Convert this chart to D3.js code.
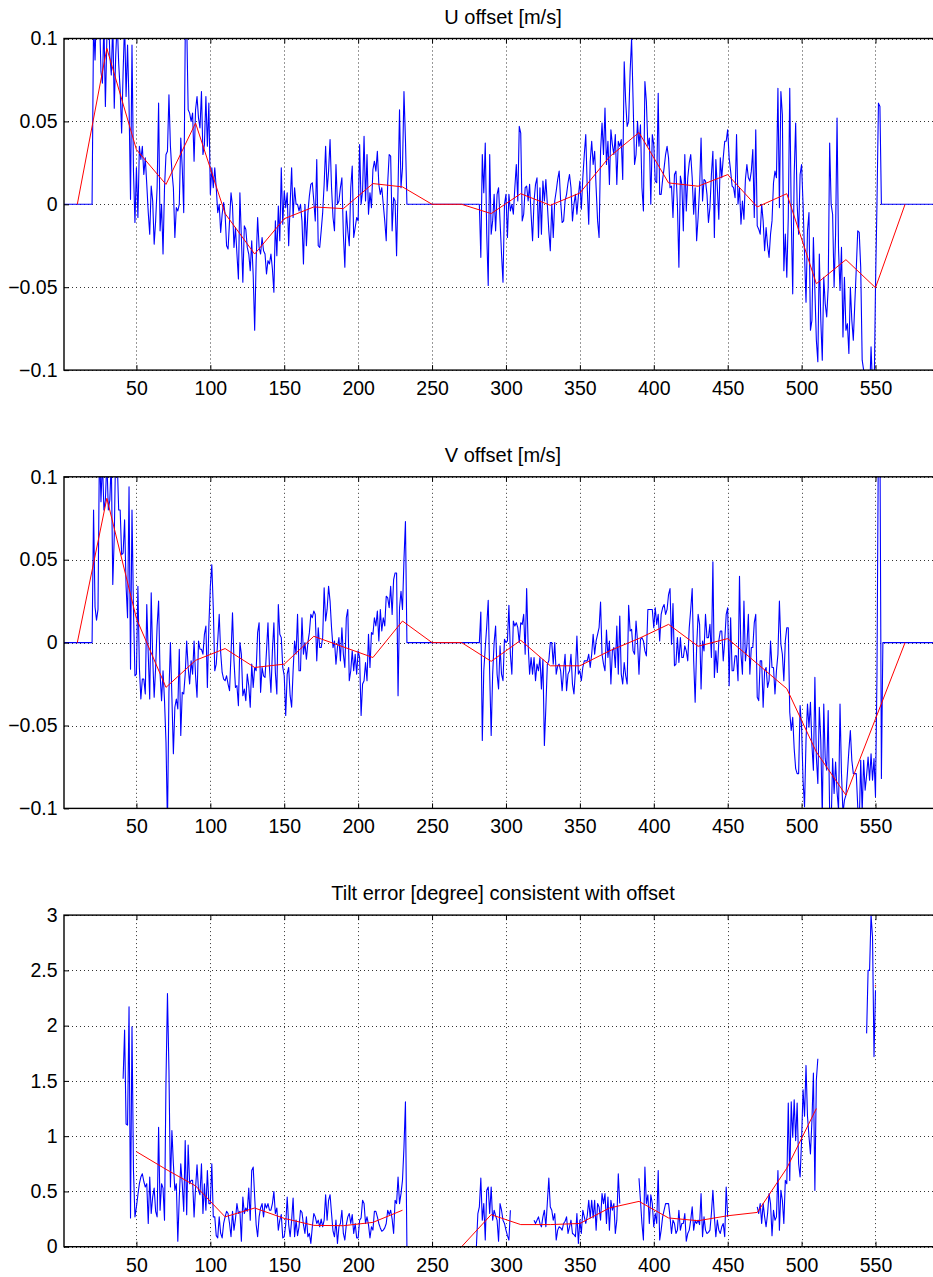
<!DOCTYPE html>
<html>
<head>
<meta charset="utf-8">
<script src="https://cdn.jsdelivr.net/npm/d3@7"></script>
<style>
  html, body { margin: 0; padding: 0; background: #fff; }
  svg { display: block; }
  text { font-family: "Liberation Sans", Arial, Helvetica, sans-serif; }
</style>
</head>
<body>
<svg id="fig" width="933" height="1277"></svg>
<script>
const _ = null;

// ---- axis ticks ----
const xTicks = [50, 100, 150, 200, 250, 300, 350, 400, 450, 500, 550];
const uvTicks = [-0.1, -0.05, 0, 0.05, 0.1];
const uvTickLabels = ["\u22120.1", "\u22120.05", "0", "0.05", "0.1"];
const tiltTicks = [0, 0.5, 1, 1.5, 2, 2.5, 3];
const tiltTickLabels = ["0", "0.5", "1", "1.5", "2", "2.5", "3"];

const titles = ["U offset [m/s]", "V offset [m/s]", "Tilt error [degree] consistent with offset"];

// ---- per-sample offsets, sample 1 onward ----
const uOffset = [
  0,0,0,0,0,0,0,0,0,0,
  0,0,0,0,0,0,0,0,0,0,
  .11,.087,.12,.105,.115,.08,.073,.11,.059,.1,
  .12,.09,.078,.11,.058,.09,.11,.085,.069,.043,
  .08,.11,.065,.096,.06,.003,.096,.02,-.011,.022,
  -.008,.035,.027,.035,.018,.028,.012,-.005,-.018,.011,
  .002,-.024,-.01,.01,.061,-.016,0,-.03,.01,.03,
  .032,.066,.035,.02,.01,-.02,-.002,-.004,0,.04,
  .022,-.005,.1,.11,.057,.055,.05,.055,.026,.057,
  .065,.052,.046,.068,.03,.036,.065,.035,.061,.006,
  .022,.01,.022,.01,-.005,0,-.017,-.006,.001,-.006,
  -.025,-.027,-.01,.007,-.001,-.026,-.014,-.03,-.045,.007,
  -.02,-.047,-.013,-.015,-.026,-.03,-.04,-.022,-.043,-.076,
  -.034,-.008,-.026,-.03,-.02,-.028,-.03,-.042,-.034,-.036,
  -.03,-.039,-.053,-.01,-.031,-.001,-.022,.022,-.012,.008,
  -.002,.007,-.025,0,.022,-.008,.01,0,0,-.004,
  0,-.01,-.036,0,-.025,-.005,.005,.012,.013,.002,
  -.01,.027,-.025,-.026,-.016,-.005,.012,.035,.008,.02,
  .039,.01,-.008,-.016,.024,0,.002,.01,.016,-.018,
  -.038,-.004,-.016,-.025,.01,.023,-.02,-.014,-.008,-.01,
  .036,0,.008,.041,.002,.03,-.006,.007,-.002,.021,
  .026,.02,.032,.012,.006,.01,0,-.01,-.022,.013,
  .03,.029,-.016,.004,.002,-.031,.01,.057,.01,.022,
  .068,.039,0,0,0,0,0,0,0,0,
  0,0,0,0,0,0,0,0,0,0,
  0,0,0,0,0,0,0,0,0,0,
  0,0,0,0,0,0,0,0,0,0,
  0,0,0,0,0,0,0,0,0,0,
  0,0,-.032,.03,.007,.037,-.018,-.049,.03,-.018,
  -.01,.006,-.016,.006,.01,-.01,-.03,-.047,0,.006,
  -.02,.006,-.004,0,-.006,.01,.024,.002,.047,.043,
  -.01,-.006,.01,.011,.002,.012,-.006,-.022,.002,.012,
  .016,-.02,.01,-.018,.014,.002,.015,0,-.016,-.028,
  0,-.02,.002,.008,.015,.02,.002,-.011,-.01,.002,
  .006,.013,.018,.01,-.01,0,.006,-.006,.005,.014,
  -.003,.016,.03,.042,.01,-.012,.026,.038,.024,.032,
  .01,-.01,-.02,.032,.049,.03,.058,.024,.038,.012,
  .045,.036,.03,.042,.012,.038,.035,.039,.015,.086,
  .062,.047,.05,.08,.1,.063,.024,.03,.05,.035,
  .048,.01,-.004,.074,.062,.035,.04,0,.042,.036,
  .014,.013,.067,.006,.006,.015,.022,.03,.035,.028,
  .01,.011,-.008,.018,.02,0,-.038,.017,.012,-.016,
  .03,-.004,.016,.025,.03,.016,-.006,.01,-.022,-.008,
  .01,.04,.002,.015,.014,.006,-.011,-.002,.018,.032,
  -.02,.027,.01,-.009,.028,.016,.028,.038,.038,.045,
  .028,.02,.011,.01,.004,.042,0,.01,-.012,.002,
  -.009,.015,.024,.016,.014,.02,.033,-.008,.045,-.013,
  -.015,-.018,0,-.01,-.028,-.014,-.025,-.032,-.018,-.01,
  .013,.02,.016,.07,-.002,.068,.054,-.04,-.018,-.044,
  -.008,.07,-.006,-.054,.018,.049,0,-.018,.018,.024,
  0,-.03,-.059,-.016,-.005,-.076,-.07,-.02,-.052,-.082,
  -.095,-.03,-.07,-.094,-.044,-.06,-.068,-.05,.037,0,
  -.006,-.05,-.018,.052,-.027,-.052,-.026,-.08,-.044,-.076,
  -.072,-.09,-.05,-.07,-.082,-.06,-.039,-.016,-.017,-.038,
  -.094,-.1,-.106,-.11,-.12,-.115,-.086,-.11,-.12,-.05,
  0,.061,.059,0,0,0,0,0,0,0,
  0,0,0,0,0,0,0,0,0,0,
  0,0,0,0,0,0,0,0,0,0,
  0,0,0,0,0,0,0,0,0,0,
  0,0,0,0,0,0,0,0,0,0
];

const vOffset = [
  0,0,0,0,0,0,0,0,0,0,
  0,0,0,0,0,0,0,0,0,0,
  .08,.0215,.0135,.02,.12,.085,.11,.08,.086,.11,
  .08,.086,.11,.035,.064,.12,.11,.08,.08,.053,
  .054,.074,.034,.015,.094,-.016,.08,.02,-.02,-.019,
  .034,-.015,-.034,-.022,-.022,-.031,.023,-.007,-.034,.03,
  -.009,-.033,-.015,.01,.025,-.019,-.035,-.017,-.035,-.06,
  -.11,-.03,0,-.033,-.067,-.039,-.034,-.04,-.004,-.056,
  -.03,-.031,-.019,.001,-.015,-.025,-.011,-.019,.001,-.02,
  -.033,.001,-.004,-.004,-.007,.005,.01,-.027,.01,.034,
  .047,.021,-.017,-.013,.001,.017,-.006,-.018,-.022,-.023,
  -.02,-.025,-.029,-.007,.018,-.011,-.027,-.026,-.038,0,
  -.007,-.032,-.028,-.035,-.019,-.026,-.039,-.013,-.027,-.015,
  -.017,.006,.012,-.03,-.015,-.02,-.021,-.005,.012,-.015,
  -.03,-.005,.012,-.018,-.031,.023,.005,.003,-.015,-.02,
  -.044,-.019,-.015,-.032,-.039,-.017,.001,-.007,.017,-.017,
  -.017,.015,-.007,0,-.01,0,.006,.017,.015,.019,
  .017,-.011,.009,-.003,-.003,.003,.033,.013,.02,.034,
  .025,.009,-.003,.001,-.013,-.003,.003,-.011,.009,-.007,
  -.015,.015,.02,-.023,-.017,-.005,-.017,-.007,-.019,-.005,
  -.009,-.044,-.025,-.023,-.012,-.023,.005,-.015,.006,.005,
  .015,.01,.019,.001,.02,.007,.015,.01,.028,.027,
  .021,.034,.017,.038,.042,.042,-.032,.021,.031,.02,
  .05,.073,0,0,0,0,0,0,0,0,
  0,0,0,0,0,0,0,0,0,0,
  0,0,0,0,0,0,0,0,0,0,
  0,0,0,0,0,0,0,0,0,0,
  0,0,0,0,0,0,0,0,0,0,
  0,0,.0185,-.059,-.017,-.003,.01,.0255,-.019,-.056,
  -.019,0,.01,-.019,-.028,-.002,-.019,-.023,.002,0,
  .001,.0225,-.007,-.019,.013,.01,.012,.009,0,.012,
  .011,.017,-.007,.0326,-.001,-.019,-.009,-.019,-.009,-.023,
  -.013,-.017,-.009,-.028,-.01,-.062,-.039,-.013,-.011,0,
  0,-.013,0,-.019,-.014,-.013,-.017,-.029,-.017,-.007,
  -.029,-.019,-.017,-.007,-.025,-.031,-.017,.004,-.019,-.017,
  -.023,-.015,-.011,-.011,-.011,-.007,-.015,-.007,.005,-.007,
  .001,.005,.009,.0245,-.007,-.013,-.017,.0075,-.009,.001,
  -.025,-.005,-.003,-.015,.01,-.019,.016,-.019,-.025,-.012,
  -.02,-.025,.0225,.007,.008,-.005,-.007,.013,.001,-.019,
  .002,.003,.001,-.005,-.008,.02,.02,.02,.02,.009,
  .021,.011,.017,.001,.017,.021,.023,.017,.02,.029,
  .0326,-.001,.0235,-.014,-.013,.003,-.012,.003,-.009,-.009,
  -.002,-.005,-.011,.009,.02,.0326,-.011,-.036,-.003,.017,
  .011,-.028,.001,-.005,.017,.003,.003,.011,-.009,.0487,
  -.021,-.005,-.018,.001,.007,.007,-.011,.001,.017,.021,
  -.026,.015,-.017,-.017,-.008,-.008,-.023,.04,-.007,-.019,
  .025,-.011,-.002,.017,-.019,-.003,-.003,.012,.017,-.033,
  -.035,-.011,-.011,-.039,-.017,-.015,-.027,-.023,.001,-.015,
  -.015,-.031,-.017,-.007,.025,-.001,-.007,-.023,.001,.009,
  .009,-.042,-.053,-.045,-.064,-.076,-.079,-.079,-.038,-.051,
  -.083,-.099,-.059,-.037,-.051,-.036,-.062,-.077,-.021,-.069,
  -.085,-.039,-.059,-.105,-.037,-.07,-.077,-.041,-.103,-.11,
  -.07,-.091,-.072,-.09,-.101,-.037,-.079,-.103,-.095,-.092,
  -.079,-.065,-.053,-.071,-.079,-.079,-.079,-.099,-.11,-.071,
  -.102,-.071,-.089,-.08,-.069,-.083,-.067,-.083,-.07,-.093,
  -.02,.13,.13,-.082,0,0,0,0,0,0,
  0,0,0,0,0,0,0,0,0,0,
  0,0,0,0,0,0,0,0,0,0,
  0,0,0,0,0,0,0,0,0,0,
  0,0,0,0,0,0,0,0,0,0
];

// tilt error in degrees, null where no estimate exists
const tiltError = [
  _,_,_,_,_,_,_,_,_,_,
  _,_,_,_,_,_,_,_,_,_,
  _,_,_,_,_,_,_,_,_,_,
  _,_,_,_,_,_,_,_,_,_,
  1.52,1.96,1.11,1.1,2.17,.26,1.99,.69,.27,.36,
  .47,.57,.63,.66,.59,.54,.57,.21,.63,.3,
  .45,.53,.32,.27,1.08,.33,.57,.53,.24,1.5,
  2.29,1.6,.54,1.05,.75,.51,.57,.05,.45,.75,
  .57,.32,.96,.29,.92,.57,.6,.6,.27,.53,
  .74,.51,.47,.75,.3,.57,.33,.69,.39,.39,
  .75,.27,.27,.1,.08,.27,.12,.08,.21,.27,
  .32,.3,.21,.09,.32,.15,.25,.39,.3,.32,
  .05,.45,.3,.35,.32,.53,.24,.69,.72,.45,
  .2,.09,.27,.35,.39,.27,.39,.35,.39,.33,
  .33,.39,.5,.3,.35,.15,.24,.29,.08,.09,
  .2,.45,.2,.09,.24,.44,.09,.24,.1,.18,
  .33,.31,.2,.12,.27,.09,.12,.03,.18,.3,
  .27,.21,.24,.18,.25,.18,.24,.47,.24,.42,
  .47,.3,.14,.09,.24,.03,.18,.21,.33,.12,
  .06,.2,.27,.3,.21,.29,.12,.21,.08,.08,
  .24,.26,.42,.39,.21,.27,.2,.08,.18,.15,
  .32,.32,.27,.21,.17,.14,.15,.17,.21,.33,
  .29,.33,.25,.12,.42,.39,.63,.39,.48,.6,
  .9,1.31,0,0,0,0,0,_,_,_,
  _,_,_,_,_,_,_,_,_,_,
  _,_,_,_,_,_,_,_,_,_,
  _,_,_,_,_,_,_,_,_,_,
  0,0,0,0,0,0,0,0,0,0,
  .3,.36,.62,.24,.39,.06,.51,.54,.3,.54,
  .24,.33,.28,.24,.05,.39,.33,.24,.21,.15,
  .1,.06,.33,_,_,_,_,_,_,_,
  _,_,_,_,_,_,_,_,.24,.21,
  .24,.27,.21,.18,.27,.33,.18,.4,.62,.36,
  .33,.24,.3,.06,.15,.18,.17,.15,.21,.23,
  .27,.12,.18,.24,.12,.11,.09,.3,.03,.24,
  .12,.33,.27,.21,.28,.42,.26,.42,.26,.42,
  .15,.39,.36,.24,.48,.39,.48,.21,.45,.15,
  .42,.33,.39,.12,.24,.66,.39,_,_,_,
  _,_,_,_,_,_,_,_,_,.62,
  .42,.21,.06,.72,.39,.47,.21,.47,.39,.18,
  .3,.21,.69,.06,.15,.27,.33,.39,.39,.39,
  .27,.12,.24,.21,.12,.15,.33,.15,.21,.21,
  .3,.05,.12,.15,.24,.36,.15,.24,.21,.24,
  .2,.48,.09,.27,.15,.12,.13,.15,.3,.51,
  .27,.09,.24,.15,.12,.18,.21,.09,.54,.27,
  _,_,_,_,_,_,_,_,_,_,
  _,_,_,_,_,_,_,_,_,.36,
  .3,.39,.21,.39,.27,.18,.3,.48,.39,.1,
  .33,.24,.27,.69,.15,.51,.42,.21,.6,.57,
  1.3,.6,1.31,.99,1.33,.96,1.3,.75,.63,.96,
  1.42,1.18,1.64,1.18,1,.84,1.14,1.57,.51,1.51,
  1.7,_,_,_,_,_,_,_,_,_,
  _,_,_,_,_,_,_,_,_,_,
  _,_,_,_,_,_,_,_,_,_,
  _,_,_,1.93,2.5,2.5,3,2.8,1.72,2.32
];

// ---- piecewise-linear fits (red) ----
const fitX = [10,30,50,70,90,110,130,150,170,190,210,230,250,270,290,310,330,350,370,390,410,430,450,470,490,510,530,550,570];
const uFit = [0,.094,.033,.012,.049,-.0056,-.030,-.0087,-.0016,-.0026,.0125,.0105,0,0,-.0056,.0064,-.0006,.0068,.0286,.0433,.0129,.0109,.0179,-.0016,.0064,-.0479,-.0334,-.0503,0];
const vFit = [0,.087,.0145,-.027,-.0107,-.0036,-.015,-.013,.0038,-.0026,-.009,.013,0,0,-.0113,.0014,-.014,-.014,-.005,.0025,.011,-.0022,.0024,-.0127,-.0278,-.066,-.092,-.046,0];
const tiltFitX = [50,70,90,110,130,150,170,190,210,230,250,270,290,310,330,350,370,390,410,430,450,470,490,510,530,550];
const tiltFit = [.86,.70,.55,.27,.35,.256,.193,.19,.22,.33,_,0,.29,.2,.2,.21,.35,.41,.26,.235,.28,.31,.71,1.25,_,2.36];

// ---- layout ----
const svg = d3.select("#fig");
svg.append("rect").attr("width", 933).attr("height", 1277).attr("fill", "#fff");

const x = d3.scaleLinear().domain([1, 595]).range([64, 942]);
const panelH = 331.6;

const panels = [
  { top: 38.5,  title: titles[0], domain: [-0.1, 0.1], ticks: uvTicks, labels: uvTickLabels,
    blue: uOffset, redX: fitX, red: uFit },
  { top: 476.8, title: titles[1], domain: [-0.1, 0.1], ticks: uvTicks, labels: uvTickLabels,
    blue: vOffset, redX: fitX, red: vFit },
  { top: 915.1, title: titles[2], domain: [0, 3], ticks: tiltTicks, labels: tiltTickLabels,
    blue: tiltError, redX: tiltFitX, red: tiltFit }
];

const TICK_FONT = 19.5;
const TITLE_FONT = 20;

panels.forEach((p, k) => {
  const top = p.top, bottom = p.top + panelH;
  const x0 = x.range()[0], x1 = x.range()[1];
  const y = d3.scaleLinear().domain(p.domain).range([bottom, top]);
  const g = svg.append("g");

  const clipId = "clip" + k;
  svg.append("clipPath").attr("id", clipId)
    .append("rect").attr("x", x0).attr("y", top).attr("width", x1 - x0).attr("height", panelH);

  // dotted grid
  const grid = g.append("g").attr("stroke", "#000").attr("stroke-width", 1)
    .attr("stroke-dasharray", "1 3").attr("stroke-opacity", 0.8);
  grid.selectAll("line.gx").data(xTicks).join("line").attr("class", "gx")
    .attr("x1", d => Math.round(x(d)) + 0.5).attr("x2", d => Math.round(x(d)) + 0.5)
    .attr("y1", top).attr("y2", bottom);
  grid.selectAll("line.gy").data(p.ticks).join("line").attr("class", "gy")
    .attr("x1", x0).attr("x2", x1)
    .attr("y1", d => Math.round(y(d)) + 0.5).attr("y2", d => Math.round(y(d)) + 0.5);

  const plot = g.append("g").attr("clip-path", `url(#${clipId})`);
  const line = d3.line().defined(d => d[1] !== null).x(d => x(d[0])).y(d => y(d[1]));

  const bluePts = p.blue.map((v, i) => [i + 1, v]);
  plot.append("path").datum(bluePts).attr("d", line)
    .attr("fill", "none").attr("stroke", "#0000ff").attr("stroke-width", 1.1)
    .attr("stroke-linejoin", "round");

  const redPts = p.red.map((v, i) => [p.redX[i], v]);
  plot.append("path").datum(redPts).attr("d", line)
    .attr("fill", "none").attr("stroke", "#ff0000").attr("stroke-width", 1)
    .attr("stroke-linejoin", "round");

  // isolated fit samples show as a single dot
  const lone = redPts.filter((d, i) => d[1] !== null &&
    (i === 0 || redPts[i - 1][1] === null) && (i === redPts.length - 1 || redPts[i + 1][1] === null));
  plot.selectAll("rect.lone").data(lone).join("rect").attr("class", "lone")
    .attr("x", d => x(d[0]) - 0.6).attr("y", d => y(d[1]) - 0.6)
    .attr("width", 1.2).attr("height", 1.2).attr("fill", "#ff0000");

  // axes with inward ticks
  const styleAxis = sel => {
    sel.select(".domain").remove();
    sel.selectAll(".tick line").attr("stroke", "#000").attr("stroke-width", 1);
    sel.selectAll(".tick text").attr("fill", "#000")
      .attr("font-family", "'Liberation Sans', Arial, Helvetica, sans-serif")
      .attr("font-size", TICK_FONT);
    sel.attr("font-family", null).attr("font-size", null);
  };

  g.append("g").attr("transform", `translate(0,${bottom})`)
    .call(d3.axisBottom(x).tickValues(xTicks).tickFormat(d3.format("d"))
      .tickSizeInner(-5).tickSizeOuter(0).tickPadding(11))
    .call(styleAxis);
  g.append("g").attr("transform", `translate(0,${top})`)
    .call(d3.axisTop(x).tickValues(xTicks).tickFormat("")
      .tickSizeInner(-5).tickSizeOuter(0))
    .call(styleAxis);
  g.append("g").attr("transform", `translate(${x0},0)`)
    .call(d3.axisLeft(y).tickValues(p.ticks).tickFormat((d, i) => p.labels[i])
      .tickSizeInner(-5).tickSizeOuter(0).tickPadding(6.5))
    .call(styleAxis);
  g.append("g").attr("transform", `translate(${x1},0)`)
    .call(d3.axisRight(y).tickValues(p.ticks).tickFormat("")
      .tickSizeInner(-5).tickSizeOuter(0))
    .call(styleAxis);

  // box
  g.append("rect").attr("x", x0).attr("y", top).attr("width", x1 - x0).attr("height", panelH)
    .attr("fill", "none").attr("stroke", "#000").attr("stroke-width", 1.4);

  // title
  g.append("text").attr("x", (x0 + x1) / 2).attr("y", top - 15)
    .attr("text-anchor", "middle").attr("font-size", TITLE_FONT).attr("fill", "#000")
    .text(p.title);
});
</script>
</body>
</html>
